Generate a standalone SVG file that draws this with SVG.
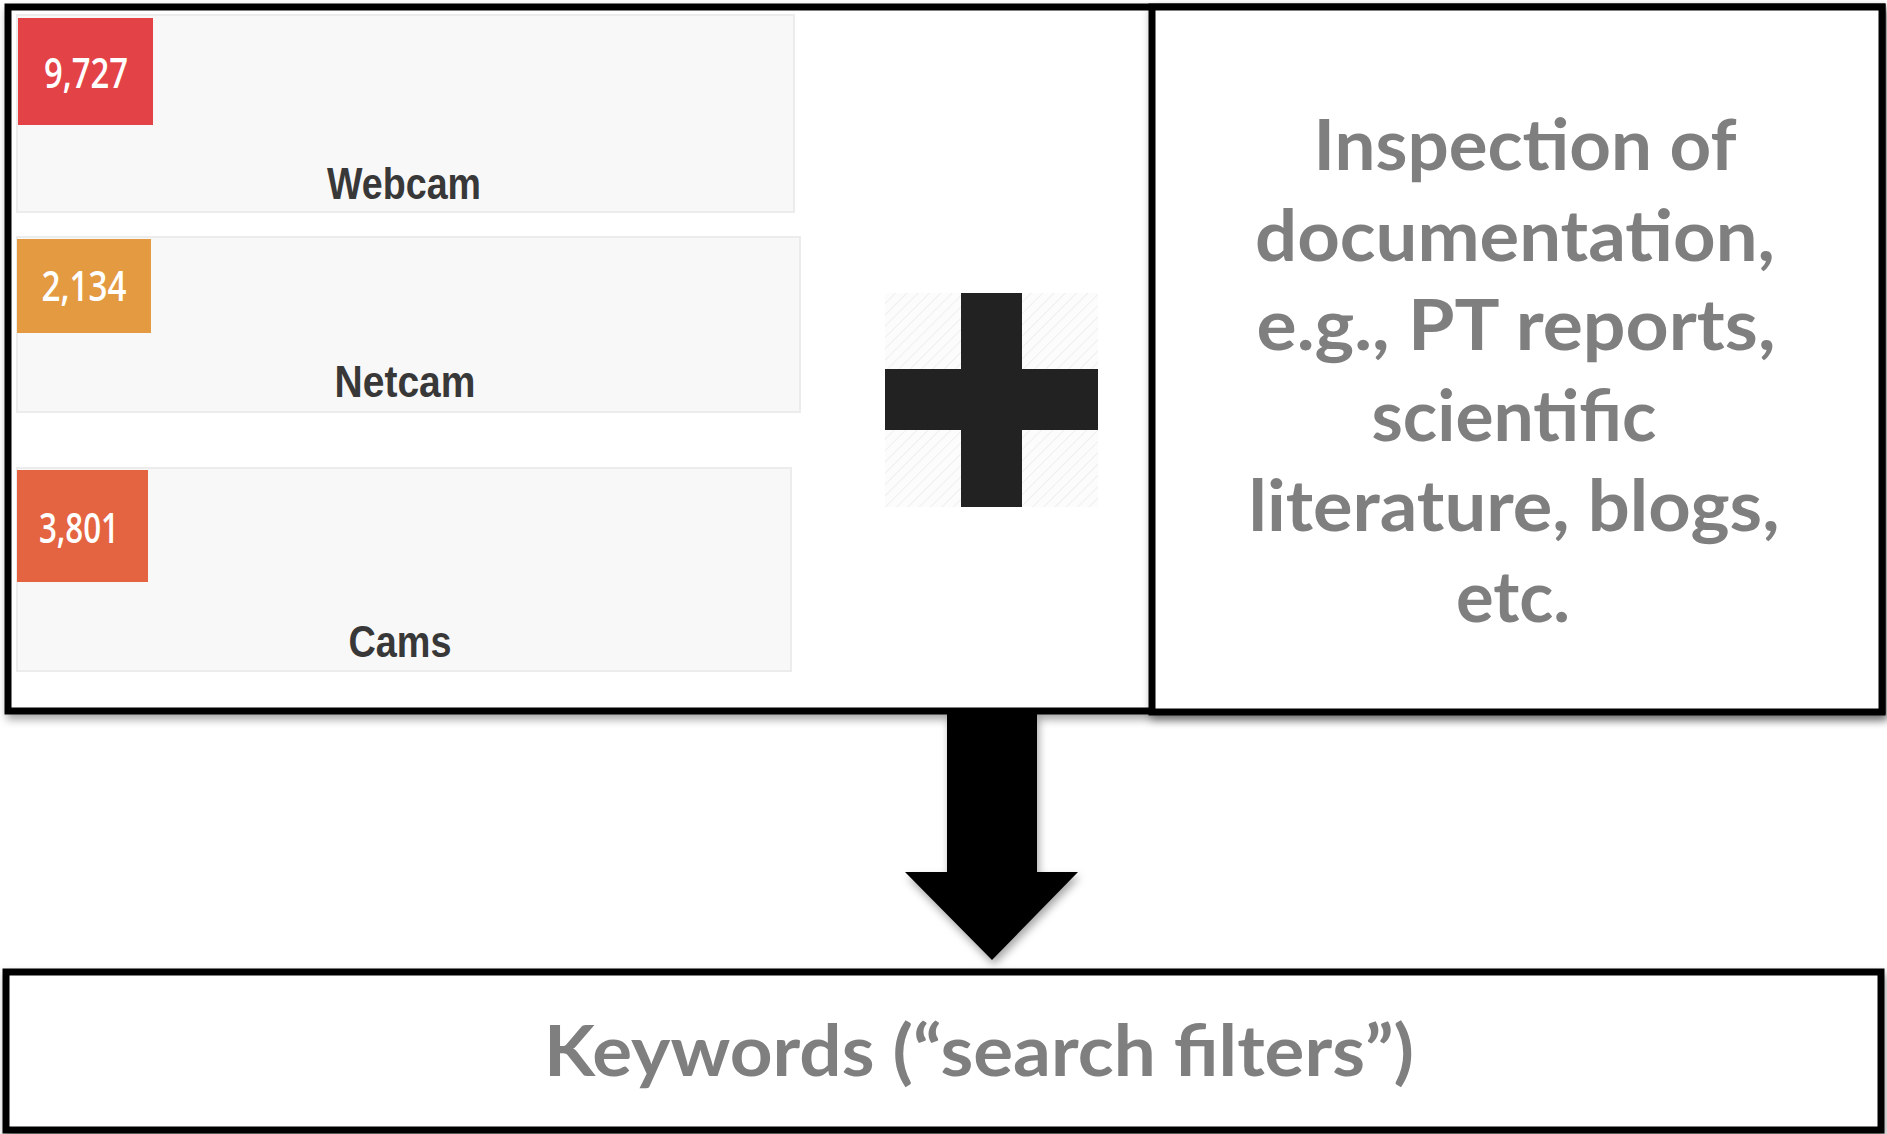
<svg xmlns="http://www.w3.org/2000/svg" width="1887" height="1134" viewBox="0 0 1887 1134">
<style>
.box{fill:#fff;stroke:#000;stroke-width:7}
.panel{fill:#f8f8f8;stroke:#ececec;stroke-width:2}
.num{font-family:"Open Sans","Liberation Sans",sans-serif;font-weight:600;font-size:41px;fill:#fff;text-anchor:middle}
.lab{font-family:"Liberation Sans",Arial,sans-serif;font-weight:bold;font-size:44px;fill:#383838;text-anchor:middle}
.big{font-family:Lato,"Open Sans",sans-serif;font-weight:bold;font-size:70px;fill:#7f7f7f;text-anchor:middle}
</style>
<defs>
<filter id="sh" x="-5%" y="-5%" width="110%" height="120%">
<feDropShadow dx="2" dy="5" stdDeviation="4" flood-color="#000" flood-opacity="0.35"/>
</filter>
<pattern id="hatch" width="8" height="8" patternUnits="userSpaceOnUse" patternTransform="rotate(45)">
<rect width="8" height="8" fill="#fcfcfc"/>
<line x1="0" y1="0" x2="0" y2="8" stroke="#efefef" stroke-width="2"/>
</pattern>
</defs>
<rect width="1887" height="1134" fill="#fff"/>

<g id="source-box">
<rect class="box" x="8" y="7" width="1874" height="704" filter="url(#sh)"/>
</g>

<g id="shodan-panel">
<g id="webcam">
<rect class="panel" x="17" y="15" width="777" height="197"/>
<rect x="18" y="18" width="135" height="107" fill="#e34246"/>
<text class="num" x="86" y="88" textLength="84" lengthAdjust="spacingAndGlyphs">9,727</text>
<text class="lab" x="404" y="199" textLength="154" lengthAdjust="spacingAndGlyphs">Webcam</text>
</g>
<g id="netcam">
<rect class="panel" x="17" y="237" width="783" height="175"/>
<rect x="17" y="239" width="134" height="94" fill="#e39a41"/>
<text class="num" x="84" y="301" textLength="85" lengthAdjust="spacingAndGlyphs">2,134</text>
<text class="lab" x="405" y="397" textLength="141" lengthAdjust="spacingAndGlyphs">Netcam</text>
</g>
<g id="cams">
<rect class="panel" x="17" y="468" width="774" height="203"/>
<rect x="17" y="470" width="131" height="112" fill="#e46441"/>
<text class="num" x="79" y="543" textLength="80" lengthAdjust="spacingAndGlyphs">3,801</text>
<text class="lab" x="400" y="657" textLength="103" lengthAdjust="spacingAndGlyphs">Cams</text>
</g>
</g>

<g id="plus">
<rect x="885" y="293" width="213" height="214" fill="url(#hatch)"/>
<rect x="961" y="293" width="61" height="214" fill="#222"/>
<rect x="885" y="369" width="213" height="61" fill="#222"/>
</g>

<g id="documentation-box">
<rect class="box" x="1152" y="7" width="730" height="705" filter="url(#sh)"/>
<text class="big" x="1525" y="170" textLength="423" lengthAdjust="spacingAndGlyphs">Inspection of</text>
<text class="big" x="1515" y="261" textLength="520" lengthAdjust="spacingAndGlyphs">documentation,</text>
<text class="big" x="1516" y="350" textLength="519" lengthAdjust="spacingAndGlyphs">e.g., PT reports,</text>
<text class="big" x="1514" y="441" textLength="285" lengthAdjust="spacingAndGlyphs">scientific</text>
<text class="big" x="1514" y="531" textLength="531" lengthAdjust="spacingAndGlyphs">literature, blogs,</text>
<text class="big" x="1513" y="622" textLength="114" lengthAdjust="spacingAndGlyphs">etc.</text>
</g>

<g id="connectors">
<polygon points="947,713 1037,713 1037,872 1078,872 992,960 905,872 947,872" fill="#000" filter="url(#sh)"/>
</g>

<g id="keywords-box">
<rect class="box" x="6" y="972" width="1875" height="158" filter="url(#sh)"/>
<text class="big" x="979" y="1076" textLength="870" lengthAdjust="spacingAndGlyphs">Keywords (“search filters”)</text>
</g>
</svg>
